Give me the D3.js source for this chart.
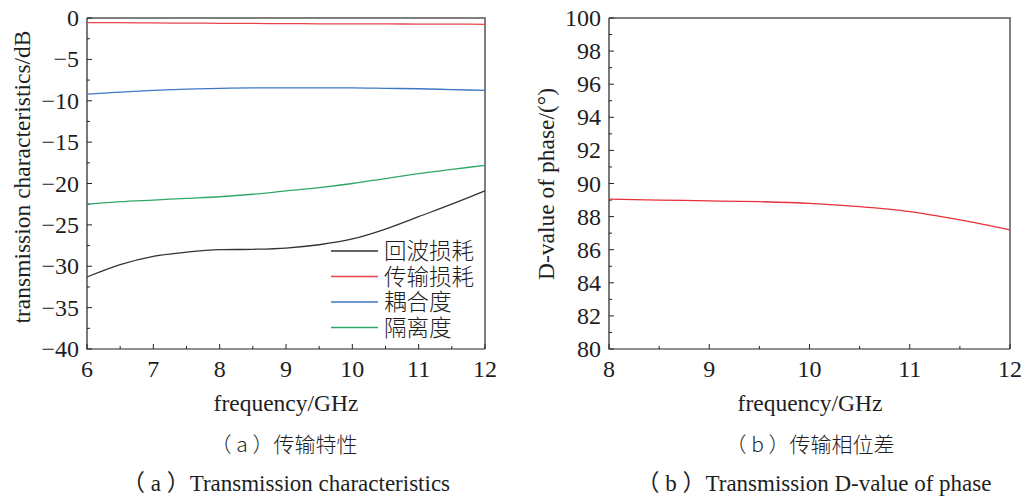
<!DOCTYPE html>
<html>
<head>
<meta charset="utf-8">
<script src="https://cdn.jsdelivr.net/npm/d3@7"></script>
<style>
  body { margin: 0; background: #fff; }
  svg text { font-family: "Liberation Serif", "Noto Sans CJK SC", serif; fill: #1e1e1e; }
  .cjk { font-family: "Noto Sans CJK SC", sans-serif; font-weight: 300; }
  .leg { font-family: "Liberation Serif", "Noto Sans CJK SC", serif; font-weight: 300; }
</style>
</head>
<body>
<svg id="chart" width="1024" height="498"></svg>
<script>
// data
const freqA = [6, 6.5, 7, 7.5, 8, 8.5, 9, 9.5, 10, 10.5, 11, 11.5, 12];
const returnLoss = [-31.3, -29.8, -28.8, -28.3, -28.0, -27.95, -27.8, -27.4, -26.7, -25.5, -24.0, -22.5, -20.9];
const insertionLoss = [-0.55, -0.57, -0.6, -0.62, -0.64, -0.66, -0.68, -0.7, -0.71, -0.72, -0.73, -0.74, -0.76];
const coupling = [-9.2, -8.95, -8.75, -8.6, -8.5, -8.45, -8.45, -8.45, -8.45, -8.5, -8.55, -8.65, -8.75];
const isolation = [-22.5, -22.2, -22.0, -21.8, -21.6, -21.3, -20.9, -20.5, -20.0, -19.4, -18.8, -18.3, -17.8];
const seriesNames = ["回波损耗", "传输损耗", "耦合度", "隔离度"];
const seriesColors = ["#333333", "#e8454d", "#3d78c6", "#2ea866"];

const freqB = [8, 8.5, 9, 9.5, 10, 10.5, 11, 11.5, 12];
const phaseDiff = [89.05, 89.0, 88.95, 88.9, 88.8, 88.6, 88.3, 87.8, 87.2];

const svg = d3.select("#chart");

// generic frame with inward ticks
function drawFrame(x, y, xMajor, xMinor, yMajor, yMinor, yFmt) {
    const [x0, x1] = x.range();
    const [y0, y1] = y.range();
    const g = svg.append("g");

    // top and right frame
    g.append("path")
        .attr("d", `M${x0},${y1}H${x1}V${y0}`)
        .attr("fill", "none").attr("stroke", "#555").attr("stroke-width", 1.5);
    // left & bottom axes
    g.append("path")
        .attr("d", `M${x0},${y1}V${y0}H${x1}`)
        .attr("fill", "none").attr("stroke", "#222").attr("stroke-width", 1.2);

    xMajor.forEach(v => {
        g.append("line").attr("x1", x(v)).attr("x2", x(v)).attr("y1", y0).attr("y2", y0 - 5)
            .attr("stroke", "#222");
        g.append("text").attr("x", x(v)).attr("y", y0 + 28)
            .attr("text-anchor", "middle").attr("font-size", 24).text(v);
    });
    xMinor.forEach(v => {
        g.append("line").attr("x1", x(v)).attr("x2", x(v)).attr("y1", y0).attr("y2", y0 - 3)
            .attr("stroke", "#222");
    });
    yMajor.forEach(v => {
        g.append("line").attr("x1", x0).attr("x2", x0 + 5).attr("y1", y(v)).attr("y2", y(v))
            .attr("stroke", "#222");
        g.append("text").attr("x", x0 - 8).attr("y", y(v) + 8)
            .attr("text-anchor", "end").attr("font-size", 24).text(yFmt(v));
    });
    yMinor.forEach(v => {
        g.append("line").attr("x1", x0).attr("x2", x0 + 3).attr("y1", y(v)).attr("y2", y(v))
            .attr("stroke", "#222");
    });
}

/* ---- panel (a) ---- */
const xA = d3.scaleLinear().domain([6, 12]).range([87, 485]);
const yA = d3.scaleLinear().domain([-40, 0]).range([349, 18]);
const minus = v => v < 0 ? "\u2212" + Math.abs(v) : String(v);

drawFrame(xA, yA,
    d3.range(6, 12.01, 1), d3.range(6.5, 12, 1),
    d3.range(-40, 0.01, 5), d3.range(-37.5, 0, 5), minus);

const seriesA = [returnLoss, insertionLoss, coupling, isolation];
const lineA = d3.line().x((d, i) => xA(freqA[i])).y(d => yA(d)).curve(d3.curveMonotoneX);
seriesA.forEach((vals, k) => {
    svg.append("path").datum(vals)
        .attr("d", lineA).attr("fill", "none")
        .attr("stroke", seriesColors[k]).attr("stroke-width", 1.3);
});

// legend
const legY = [251, 276.5, 302, 327.5];
seriesNames.forEach((name, k) => {
    svg.append("line").attr("x1", 331).attr("x2", 378).attr("y1", legY[k]).attr("y2", legY[k])
        .attr("stroke", seriesColors[k]).attr("stroke-width", 1.3);
    svg.append("text").attr("class", "leg").attr("x", 384).attr("y", legY[k] + 8)
        .attr("font-size", 22.5).text(name);
});

svg.append("text").attr("x", 286).attr("y", 411).attr("text-anchor", "middle")
    .attr("font-size", 23.5).text("frequency/GHz");
svg.append("text").attr("transform", "rotate(-90)").attr("x", -177).attr("y", 30)
    .attr("text-anchor", "middle").attr("font-size", 23.5).text("transmission characteristics/dB");
svg.append("text").attr("class", "cjk").attr("x", 284).attr("y", 452).attr("text-anchor", "middle")
    .attr("font-size", 21).text("（ a ）传输特性");
svg.append("text").attr("x", 286).attr("y", 491).attr("text-anchor", "middle")
    .attr("font-size", 23).text("（ a ）Transmission characteristics");

/* ---- panel (b) ---- */
const xB = d3.scaleLinear().domain([8, 12]).range([609, 1010]);
const yB = d3.scaleLinear().domain([80, 100]).range([349, 18]);

drawFrame(xB, yB,
    d3.range(8, 12.01, 1), d3.range(8.5, 12, 1),
    d3.range(80, 100.01, 2), d3.range(81, 100, 2), v => String(v));

const lineB = d3.line().x((d, i) => xB(freqB[i])).y(d => yB(d)).curve(d3.curveMonotoneX);
svg.append("path").datum(phaseDiff)
    .attr("d", lineB).attr("fill", "none")
    .attr("stroke", "#e8303a").attr("stroke-width", 1.3);

svg.append("text").attr("x", 810).attr("y", 411).attr("text-anchor", "middle")
    .attr("font-size", 23.5).text("frequency/GHz");
svg.append("text").attr("transform", "rotate(-90)").attr("x", -184).attr("y", 554)
    .attr("text-anchor", "middle").attr("font-size", 23.5).text("D-value of phase/(°)");
svg.append("text").attr("class", "cjk").attr("x", 810).attr("y", 452).attr("text-anchor", "middle")
    .attr("font-size", 21).text("（ b ）传输相位差");
svg.append("text").attr("x", 814).attr("y", 491).attr("text-anchor", "middle")
    .attr("font-size", 23).text("（ b ）Transmission D-value of phase");
</script>
</body>
</html>
